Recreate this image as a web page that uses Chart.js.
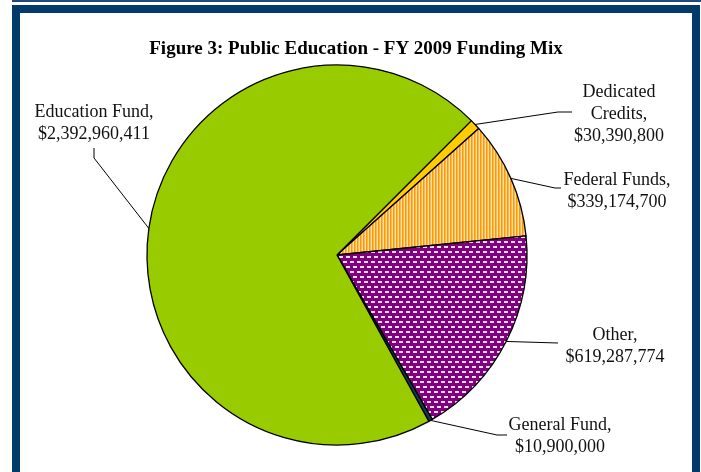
<!DOCTYPE html>
<html>
<head>
<meta charset="utf-8">
<title>Public Education - FY 2009 Funding Mix</title>
<script src="https://cdn.jsdelivr.net/npm/chart.js@4.4.1/dist/chart.umd.min.js"></script>
<style>
  html, body { margin: 0; padding: 0; background: #fff; }
  body { width: 701px; height: 472px; position: relative; overflow: hidden; }
  #fundingMix { position: absolute; left: 0; top: 0; }
  .frame { position: absolute; background: #023a6b; }
</style>
</head>
<body>
<canvas id="fundingMix" width="701" height="472"></canvas>
<!-- page frame -->
<div class="frame" style="left:12px; top:0; width:689px; height:2px; background:#24487a;"></div>
<div class="frame" style="left:12px; top:5px; width:688px; height:8px;"></div>
<div class="frame" style="left:12px; top:5px; width:8px; bottom:0;"></div>
<div class="frame" style="left:692px; top:5px; width:8px; bottom:0;"></div>

<script>
// funding sources, in the order they sit around the pie
var categories = ["Dedicated\nCredits", "Federal Funds", "Other", "General Fund", "Education Fund"];
var funding = [30390800, 339174700, 619287774, 10900000, 2392960411];
var chartTitle = "Figure 3: Public Education - FY 2009 Funding Mix";

// where each data label goes: first baseline + leader line bend points
var labelSpots = [
    {x: 619, y: 97,  path: [[558, 112], [572, 112]]},
    {x: 617, y: 185, path: [[555, 188], [561, 188]]},
    {x: 615, y: 340, path: [[558, 343]]},
    {x: 560, y: 430, path: [[497, 435], [507, 435]]},
    {x: 94,  y: 117, path: [[94, 158], [94, 148]]}
];

// fill patterns
function stripes() {
    var c = document.createElement('canvas');
    c.width = 3; c.height = 1;
    var g = c.getContext('2d');
    g.fillStyle = '#ffe0a8';
    g.fillRect(0, 0, 3, 1);
    g.fillStyle = '#ff9900';
    g.fillRect(0, 0, 1, 1);
    g.fillStyle = '#ffb64d';
    g.fillRect(1, 0, 1, 1);
    return g.createPattern(c, 'repeat');
}
function dots() {
    var c = document.createElement('canvas');
    c.width = 14; c.height = 10;
    var g = c.getContext('2d');
    g.fillStyle = '#800080';
    g.fillRect(0, 0, 14, 10);
    g.fillStyle = '#f2dcf2';
    g.fillRect(0, 1, 4, 2);
    g.fillRect(7, 1, 4, 2);
    g.fillRect(3, 6, 4, 2);
    g.fillRect(10, 6, 4, 2);
    return g.createPattern(c, 'repeat');
}

function money(v) {
    return '$' + v.toLocaleString('en-US');
}

var titlePlugin = {
    id: 'figTitle',
    afterDraw: function(chart) {
        var ctx = chart.ctx;
        ctx.save();
        ctx.font = 'bold 19px "Liberation Serif", "Times New Roman", serif';
        ctx.fillStyle = '#000';
        ctx.textAlign = 'center';
        ctx.textBaseline = 'alphabetic';
        ctx.fillText(chartTitle, 356, 54);
        ctx.restore();
    }
};

// data labels with leader lines starting at each slice's mid angle
var labelPlugin = {
    id: 'leaderLabels',
    afterDatasetsDraw: function(chart) {
        var ctx = chart.ctx;
        var arcs = chart.getDatasetMeta(0).data;
        ctx.save();
        arcs.forEach(function(arc, i) {
            var p = arc.getProps(['x', 'y', 'startAngle', 'endAngle', 'outerRadius'], true);
            var mid = (p.startAngle + p.endAngle) / 2;
            var spot = labelSpots[i];
            ctx.beginPath();
            ctx.moveTo(p.x + p.outerRadius * Math.cos(mid), p.y + p.outerRadius * Math.sin(mid));
            spot.path.forEach(function(pt) { ctx.lineTo(pt[0], pt[1]); });
            ctx.strokeStyle = '#000';
            ctx.lineWidth = 1;
            ctx.stroke();

            var lines = categories[i].split('\n');
            lines[lines.length - 1] += ',';
            lines.push(money(funding[i]));
            ctx.font = '18px "Liberation Serif", "Times New Roman", serif';
            ctx.fillStyle = '#111';
            ctx.textAlign = 'center';
            ctx.textBaseline = 'alphabetic';
            lines.forEach(function(t, k) {
                ctx.fillText(t, spot.x, spot.y + k * 22);
            });
        });
        ctx.restore();
    }
};

var ctx = document.getElementById('fundingMix').getContext('2d');
var fundingChart = new Chart(ctx, {
    type: 'pie',
    data: {
        labels: categories,
        datasets: [{
            data: funding,
            backgroundColor: ['#ffcc00', stripes(), dots(), '#0b3d4c', '#99cc00'],
            borderColor: '#000',
            borderWidth: 1.3
        }]
    },
    options: {
        responsive: false,
        animation: false,
        events: [],
        rotation: 45,
        radius: 190,
        layout: {
            padding: {left: 0, right: 27, top: 38, bottom: 0}
        },
        plugins: {
            legend: {display: false},
            tooltip: {enabled: false},
            title: {display: false}
        }
    },
    plugins: [labelPlugin, titlePlugin]
});
</script>
</body>
</html>
